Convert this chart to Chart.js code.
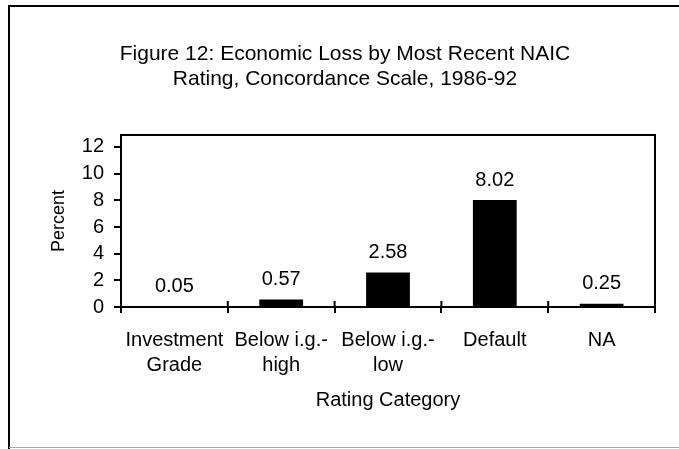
<!DOCTYPE html>
<html><head><meta charset="utf-8">
<script src="https://cdn.jsdelivr.net/npm/chart.js@4.4.1/dist/chart.umd.min.js"></script>
<style>html,body{margin:0;padding:0;background:#fff;}#wrap{width:679px;height:449px;}</style>
</head><body><div id="wrap"><canvas id="c" width="679" height="449"></canvas></div>
<script>
const titleLines = ['Figure 12: Economic Loss by Most Recent NAIC', 'Rating, Concordance Scale, 1986-92'];
const categories = [['Investment', 'Grade'], ['Below i.g.-', 'high'], ['Below i.g.-', 'low'], ['Default'], ['NA']];
const lossValues = [0.05, 0.57, 2.58, 8.02, 0.25];
const yTickValues = [0, 2, 4, 6, 8, 10, 12];
const xAxisTitle = 'Rating Category';
const yAxisTitle = 'Percent';

Chart.defaults.font.family = "'Liberation Sans', Arial, sans-serif";
Chart.defaults.color = '#000';

const framePlugin = {
  id: 'frame',
  beforeDraw(chart) {
    const ctx = chart.ctx;
    ctx.save();
    ctx.fillStyle = '#fff';
    ctx.fillRect(0, 0, chart.width, chart.height);
    ctx.strokeStyle = '#000';
    ctx.lineWidth = 2;
    ctx.beginPath();
    ctx.moveTo(9, chart.height);
    ctx.lineTo(9, 6);
    ctx.lineTo(chart.width, 6);
    ctx.stroke();
    ctx.strokeStyle = '#a8a8a8';
    ctx.lineWidth = 1;
    ctx.beginPath();
    ctx.moveTo(9, 447.5);
    ctx.lineTo(chart.width, 447.5);
    ctx.stroke();
    ctx.restore();
  },
  afterDatasetsDraw(chart) {
    const ctx = chart.ctx;
    const meta = chart.getDatasetMeta(0);
    ctx.save();
    ctx.fillStyle = '#000';
    ctx.font = "20px 'Liberation Sans', Arial, sans-serif";
    ctx.textAlign = 'center';
    ctx.textBaseline = 'middle';
    meta.data.forEach((bar, i) => {
      ctx.fillText(lossValues[i].toFixed(2), bar.x, bar.y - 20);
    });
    ctx.restore();
  },
  afterDraw(chart) {
    const ctx = chart.ctx;
    const a = chart.chartArea;
    const xs = chart.scales.x;
    ctx.save();
    ctx.strokeStyle = '#000';
    ctx.lineWidth = 2;
    ctx.strokeRect(a.left, a.top, a.right - a.left, a.bottom - a.top);
    const n = categories.length;
    ctx.beginPath();
    for (let i = 0; i <= n; i++) {
      const x = xs.left + i * (xs.width / n);
      ctx.moveTo(x, a.bottom - 6);
      ctx.lineTo(x, a.bottom);
    }
    ctx.stroke();
    ctx.restore();
  }
};

new Chart(document.getElementById('c'), {
  type: 'bar',
  data: {
    labels: categories,
    datasets: [{
      data: lossValues,
      backgroundColor: '#000',
      borderWidth: 0,
      categoryPercentage: 1,
      barPercentage: 0.41
    }]
  },
  options: {
    responsive: false,
    animation: false,
    devicePixelRatio: 1,
    layout: { padding: { left: 35, right: 24, top: 0, bottom: 36.5 } },
    plugins: {
      legend: { display: false },
      tooltip: { enabled: false },
      title: {
        display: true,
        text: titleLines,
        color: '#000',
        font: { size: 21, weight: 'normal', lineHeight: 1.19 },
        padding: { top: 41.5, bottom: 43.5 }
      }
    },
    scales: {
      x: {
        grid: { offset: true, drawOnChartArea: false, tickLength: 6, color: '#000', lineWidth: 2 },
        border: { color: '#000', width: 2 },
        ticks: { color: '#000', font: { size: 20, lineHeight: 1.25 }, padding: 14.5, maxRotation: 0, autoSkip: false },
        title: { display: true, text: xAxisTitle, color: '#000', font: { size: 20, lineHeight: 1.25 }, padding: { top: 0, bottom: 0 } },
        afterFit: s => { s.height = 105.5; }
      },
      y: {
        min: 0,
        max: 12.9,
        afterBuildTicks: s => { s.ticks = yTickValues.map(v => ({ value: v })); },
        grid: { drawOnChartArea: false, tickLength: 7, color: '#000', lineWidth: 2 },
        border: { color: '#000', width: 2 },
        ticks: { color: '#000', font: { size: 20 }, padding: 10 },
        title: { display: true, text: yAxisTitle, color: '#000', font: { size: 18, lineHeight: 1.2 }, padding: { top: 13.2, bottom: 0 } },
        afterFit: s => { s.width = 86; }
      }
    }
  },
  plugins: [framePlugin]
});
</script>
</body></html>
